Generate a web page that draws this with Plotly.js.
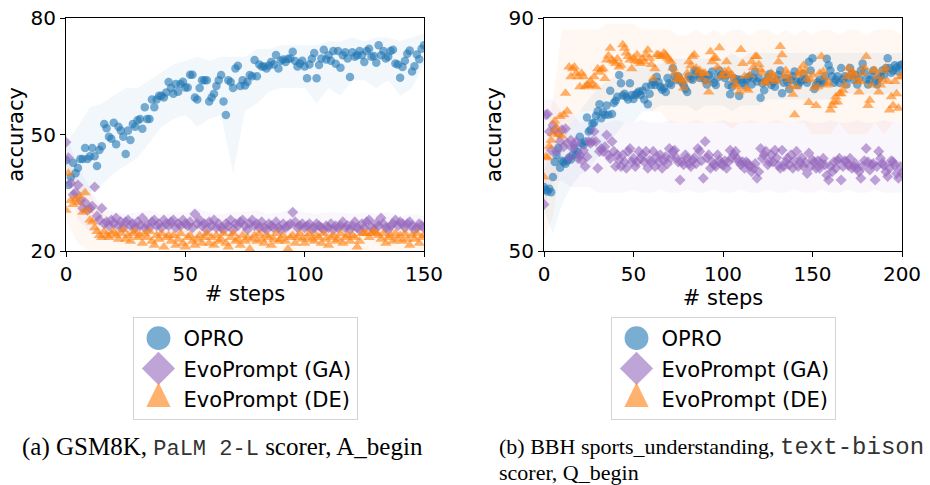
<!DOCTYPE html>
<html>
<head>
<meta charset="utf-8">
<script src="https://cdn.plot.ly/plotly-3.0.1.min.js"></script>
<style>html,body{margin:0;padding:0;background:#fff;}#chart{width:930px;height:485px;}</style>
</head>
<body>
<div id="chart"></div>
<script>
// ---------- data ----------
const seriesNames = ['OPRO', 'EvoPrompt (GA)', 'EvoPrompt (DE)'];

// (a) GSM8K, steps 0..150
const leftOPRO = [
 43.4, 37, 39, 42.7, 40, 41.4, 43.7, 43.7, 46.5, 43.7,
 44.4, 46.5, 44.4, 41.9, 46, 47, 52.7, 51.6, 49.4, 48.9,
 53, 47.5, 52, 51, 49.4, 45, 51, 48.6, 52.7, 52,
 53.7, 54, 51.5, 57, 54, 54, 59, 57, 59, 60,
 60, 59.5, 60.8, 63.5, 62, 60.5, 63, 61, 63, 63.6,
 62.1, 62.1, 65.4, 65.4, 59.5, 59, 62, 64, 64, 64,
 58.5, 59.5, 60.5, 62.5, 64, 65.3, 58.5, 55, 64, 63.5,
 62, 67, 67.7, 62.5, 64, 62.6, 63.5, 65.3, 65, 69.2,
 65, 68, 67.5, 67.5, 67, 67.8, 68.7, 68, 70.5, 67,
 69, 69.3, 68.7, 69.5, 69.6, 71.3, 68.9, 67.5, 68.3, 69,
 67.5, 64.5, 68, 69.5, 71, 64.5, 67.9, 69.6, 71.8, 69.3,
 70.4, 69, 71.5, 68.2, 71.5, 67.2, 70.4, 71.2, 69.6, 64.8,
 71.2, 70, 70.4, 71.5, 70.4, 68.7, 71.5, 72.1, 70, 70.2,
 68.5, 73, 70.4, 71.5, 69.6, 70, 71.5, 71.8, 68.3, 68,
 64.6, 67.4, 69, 70.8, 71.6, 66.2, 67.6, 70.6, 69.4, 72.1,
 73
];
const leftGA = [
 48, 44, 37.5, 34.5, 35, 37, 33, 31, 32.5, 30.5, 31, 31.5, 36.5, 29, 28, 31, 27, 27.5, 26.5, 28,
 27, 28.5, 26.5, 27.5, 26, 27.5, 28, 26.5, 27, 26, 27.5, 26.5, 28.5, 26, 27, 26, 27.5, 28, 26.5, 27,
 26, 28, 27, 26.5, 27.5, 28, 26, 27, 26.5, 28, 27, 26.5, 27.5, 26, 29.5, 27, 28, 26.5, 27, 25.5,
 27.5, 26.5, 28, 26, 27, 26, 25.5, 27, 26.5, 28, 25.5, 27, 26.5, 27.5, 28, 26.5, 25.5, 27, 28, 26.5,
 27, 26, 27.5, 26, 25.5, 27, 26.5, 26, 27.5, 26, 25.5, 27, 26, 26.5, 27, 30, 27.5, 26, 26.5, 27,
 26, 26.5, 27, 25.5, 26, 27, 26.5, 26, 25.5, 26.5, 26, 27, 25.5, 26.5, 26, 26.5, 27.5, 26, 26.5, 25.5,
 26.5, 27.5, 26, 25.5, 27, 26, 27.5, 28, 26, 25.5, 27, 26.5, 28.5, 27, 26, 25.5, 26.5, 27, 28, 26.5,
 27.5, 27, 26, 27, 27.5, 26.5, 25.5, 26, 27, 26.5, 26
];
const leftDE = [
 30.5, 40, 33, 32, 33.5, 32.5, 34, 30, 35, 30.5, 28, 27.5, 26, 25, 24, 23.5, 25, 24, 23.5, 24.5,
 25, 24, 23, 24.5, 25.5, 23, 24, 22.5, 24.5, 25, 23.5, 24, 22, 24.5, 23.5, 25, 22.5, 21.5, 24, 23,
 24.5, 21, 23.5, 24, 22.5, 24, 21.5, 23, 24.5, 22, 21, 23.5, 24, 22.5, 21.5, 23, 24, 22, 23.5, 24.5,
 22, 23.5, 21.5, 24, 22.5, 23, 24.5, 22, 21, 23.5, 24.5, 22.5, 23, 21.5, 24, 22.5, 23.5, 20.5, 23, 24,
 22.5, 24.5, 23, 22, 24, 23.5, 21.5, 23, 24.5, 22.5, 23, 24, 22.5, 20.5, 23.5, 24, 22, 23.5, 24.5, 23,
 22, 23.5, 24.5, 23, 22.5, 24, 23.5, 22, 24.5, 23, 21.5, 23.5, 24, 22.5, 23, 24.5, 22, 23.5, 24, 22.5,
 24, 23.5, 21, 22.5, 24.5, 24.5, 24.5, 23.5, 24.5, 25, 24.5, 24, 23, 24.5, 22, 23.5, 24, 22.5, 24.5, 23,
 24, 22.5, 24.5, 23, 21.5, 24, 23, 24.5, 22, 23.5, 24
];
const leftBandSteps = [0,5,10,15,20,25,30,35,40,45,50,55,60,65,70,75,80,85,90,95,100,105,110,115,120,125,130,135,140,145,150];
const leftOPROLow  = [40,33,35,37,40,42,44,48,52,54,55,52,54,55,40,56,58,61,62,62,62,58,62,60,64,64,62,64,60,62,68];
const leftOPROHigh = [48,52,57,58,60,62,62,64,66,68,69,70,69,70,70,70,72,72,73,73,73,73,74,74,75,74,75,75,74,75,76];
const leftGALow    = [44,28,25,24,24.5,23.5,24,24.5,23.5,24,24,23.5,24,24.5,23.5,24,24,23.5,24,24.5,23.5,24,24,23.5,24,24.5,24,23.5,24,24,23.5];
const leftGAHigh   = [50,42,36,31.5,30,29.5,30,30.5,29.5,30,30,31,30,29.5,30,30,30.5,29.5,30,31,30,29.5,30,30,29.5,30,29.5,30,29,29.5,29];
const leftDELow    = [28,22,20,20,20,20,20,20,20,20,20,20,20,20,20,20,20,20,20,20,20,20,20,20,20,20,20,20,20,20,20];
const leftDEHigh   = [46,38,35,30,28,27,27.5,27,26.5,27,27,27.5,27,26.5,27,27,27.5,27,26.5,27,27,27.5,27,26.5,27,27.5,27.5,27,26.5,27,27];

// (b) BBH sports_understanding, steps 0..200
const rightOPRO = [
 61, 60.5, 60.2, 60.7, 60.1, 62.7, 65.3, 66.5, 67.7, 64.3, 65.5, 65.3, 65, 65.5, 66, 65.7, 66.5, 67.7, 66.5, 67,
 69.6, 68.5, 68.2, 68.8, 72.9, 70.5, 70.8, 71.9, 72, 73.2, 74, 75.2, 72.8, 73.8, 73.4, 75, 73.4, 77.5, 73.5, 75.4,
 75.8, 76.5, 80.2, 78.8, 76.7, 77, 76.5, 76, 78.8, 76.8, 76.1, 76.8, 77.1, 77.4, 76.8, 77.5, 76, 78.2, 75.2, 77,
 78.5, 79, 78.5, 79.9, 79, 78.2, 77.7, 78, 77.3, 79.7, 78.8, 78.5, 81.4, 80, 79.4, 80, 79.4, 79, 78.5, 77.8,
 77.3, 80, 79.6, 79.4, 81, 80.8, 80.2, 79.7, 80.4, 79.8, 79.4, 78.6, 80.2, 79.5, 80.8, 78.9, 78.5, 79.8, 81, 80.2,
 80.2, 79.7, 80.2, 78.5, 76.9, 78.2, 79.7, 78.9, 79.5, 76.6, 79.4, 78.9, 78.5, 79.4, 79.8, 80, 78.6, 79.7, 80.8, 79.1,
 79.7, 76.3, 78.8, 77.6, 79.1, 79.8, 80.4, 78.5, 79, 78.2, 79.4, 80.2, 81, 77.1, 78.9, 79.7, 79, 77.8, 79.4, 80,
 80.8, 79.1, 78.5, 79, 79.4, 80.4, 79.5, 78.9, 82.5, 81, 83.1, 77.8, 78.5, 79, 79.4, 78.8, 79.1, 80, 83, 81.9,
 81, 80, 78.9, 79.4, 80, 78.9, 81.4, 79.5, 80, 78.6, 79.8, 81.4, 80.4, 79.4, 80.2, 78.6, 79.6, 81, 82.2, 80.8,
 79.5, 78.6, 79.4, 80.2, 81, 79.1, 78.6, 79.6, 80, 81, 80.2, 81.4, 83.1, 81.4, 80.6, 81, 81.9, 81.5, 80.8, 81.9,
 82
];
const rightGA = [
 58, 73.4, 73.5, 70.5, 67.3, 71.6, 70.8, 67.1, 70.2, 68.8, 70.8, 67.9, 71, 68.5, 66, 69, 67.6, 68.2, 68.8, 65.9,
 66.5, 65.6, 67.3, 64.5, 66.2, 68.8, 68.5, 68.8, 70.5, 68.8, 64.2, 67.1, 67.6, 67.1, 67.9, 69.9, 66.5, 65.9, 68.8, 67.1,
 64.5, 66.5, 65.6, 64.5, 66.5, 65.3, 64.2, 67.1, 67.6, 65.3, 65.9, 64.5, 65.3, 67.1, 65.9, 66.5, 65.3, 67.1, 64.2, 65.6,
 65.3, 67.1, 64.5, 66.2, 65.3, 66.5, 64.2, 65.5, 66.2, 65, 67.6, 66, 67.1, 67.3, 66, 65.3, 62.2, 65.3, 64.8, 66.5,
 65.9, 65, 64.5, 65.6, 66, 65, 67.6, 67.1, 65.5, 62.5, 68.8, 66, 66.5, 64.2, 65.3, 64.8, 64.5, 66.5, 65.6, 65,
 64.7, 65.5, 64.2, 65.3, 67.3, 66, 66.5, 67.1, 65.9, 65.3, 64.8, 65.3, 64.2, 65.3, 65, 64.5, 63.6, 64.2, 65, 62.5,
 63.6, 67.6, 65.9, 66.5, 67.1, 64.8, 65.3, 66.5, 65.3, 67.3, 66, 64.7, 64.2, 67.3, 64.5, 65.3, 65.9, 64.8, 66.5, 64.2,
 65.5, 67.1, 64.5, 65.3, 66, 64.5, 65.2, 63.3, 66.8, 64.5, 65.6, 65.3, 64.2, 65.5, 64.2, 65, 65.9, 64.8, 63, 62.2,
 64.5, 63.6, 65.3, 64.2, 65.5, 65.9, 62.2, 64.5, 65.5, 65.3, 64.7, 65.9, 64.2, 64.5, 65, 64.2, 63.6, 62.5, 64.5, 65.5,
 67.6, 65.3, 63.9, 64.8, 65, 62.2, 64.5, 67.1, 65.9, 65, 64.7, 63.6, 62.8, 64.2, 65.5, 65.3, 64.7, 63.3, 62.5, 64.5,
 63.4
];
const rightDE = [
 62.7, 66.2, 66, 68, 69, 70.2, 72.3, 71.2, 70, 73.1, 69.7, 73.4, 77.1, 74, 81.6, 79.9, 81.3, 81.6, 80.5, 79.9,
 78.2, 80.5, 79.9, 78.2, 78.5, 78.4, 79.2, 78.5, 79.9, 78.2, 81.3, 80.7, 81.1, 81.3, 79.6, 82.8, 83.5, 84.8, 82.8, 82.5,
 82.2, 83, 81.6, 81.9, 85.4, 84.8, 84, 83.4, 82.8, 81.3, 83.1, 82.6, 83.7, 82.5, 82.2, 83, 82.5, 83.7, 84.5, 83.1,
 82, 79.6, 81.3, 83.7, 83.7, 83.4, 83.4, 84, 83.7, 83.1, 82.8, 82.5, 81.4, 80.5, 79.4, 80, 79.6, 79, 78, 79.4,
 80.5, 82.5, 81.8, 83.4, 83.7, 81.4, 80.5, 81, 79.6, 80.5, 80.5, 79, 77.3, 84.2, 82.5, 83.1, 83.1, 81.5, 84.9, 80,
 80, 80.8, 82.5, 81, 80.2, 80.2, 79.4, 78.5, 78.2, 77.3, 84.6, 82.2, 80, 77.9, 77.6, 80.2, 82.5, 81.5, 83.4, 83.4,
 82, 81.1, 80.5, 79.1, 78.8, 79.4, 79.6, 80.5, 80.2, 79.5, 79.1, 82.5, 85.1, 83.7, 79.9, 81, 80.3, 79.4, 78.2, 76.9,
 73.4, 78.2, 80.2, 81, 80.5, 81.9, 81, 79.5, 75.5, 79.4, 80.2, 78, 75, 78.2, 80.5, 83.4, 80.8, 79.7, 78.5, 78.8,
 74.2, 75, 75.6, 76.5, 75.6, 77, 77, 77.6, 78.5, 79.9, 81.4, 80.1, 80.8, 80.5, 79.8, 79.1, 77.3, 79.1, 80.5, 81.5,
 83.4, 75, 75.9, 78.5, 81, 81, 79.9, 77.3, 78.5, 79.4, 81, 81.4, 79.1, 74.2, 76.5, 75, 79.1, 77, 74.5, 79.9,
 79.9
];
const rightBandSteps = [0,5,10,15,20,25,30,35,40,45,50,55,60,65,70,75,80,85,90,95,100,105,110,115,120,125,130,135,140,145,150,155,160,165,170,175,180,185,190,195,200];
const rightOPROLow  = [57,53,58,61,63,64,66,68,70,72,72,74,74,75,75,75,75,74,75,75,75,74,75,75,75,76,76,76,76,76,76,76,76,77,77,77,77,77,77,77,78];
const rightOPROHigh = [64,68,70,72,74,76,78,79,80,81,82,82,82,82,83,83,83,83,83,83,83,84,83,84,84,84,84,84,84,84,84,84,84,84,84,84,84,84,84,84,84];
const rightGALow    = [57,62,62,61,61,61,60,60,60,60,60.5,60,60,60.5,60,60,60.5,60,60,60.5,60,60,60.5,60,60,60.5,60,60,60.5,60,60,60.5,60,60,60.5,60,60,60.5,60,60,60];
const rightGAHigh   = [76,76,74,74,72,72.5,72,72,72.5,72,72,72.5,72,72,72.5,72,72,72.5,72,72,72.5,72,72,72.5,72,72,72.5,72,72,72.5,72,72,72.5,72,72,72.5,72,72,72.5,72,72];
const rightDELow    = [52,56,66,72,74,74,74,76,76,76,76,76,74,74,72,72,72,72,72,72,72,71,72,72,72,72,72,72,72,72,70,70,70,72,70,70,70,72,70,72,72];
const rightDEHigh   = [68,76,88,88,88,88,88,89,89,89,89,88,88,88,88,87,87,88,87,88,87,88,88,87,88,88,87,88,87,88,87,88,88,87,88,88,87,88,88,88,87];

const leftXTicks = [0, 50, 100, 150];
const leftYTicks = [20, 50, 80];
const rightXTicks = [0, 50, 100, 150, 200];
const rightYTicks = [50, 90];

// ---------- style ----------
const rgb = ['31,119,180', '148,103,189', '255,127,14'];
const symbols = ['circle', 'diamond', 'triangle-up'];
const msize = [8.5, 8.5, 10];
const bandAlpha = [0.06, 0.05, 0.06];
const FONT = 'DejaVu Sans, Arial, sans-serif';
const SERIF = 'Liberation Serif, Times New Roman, serif';

function steps(n) { return Array.from({length: n}, (_, i) => i); }

const traces = [];
function addPanel(xa, ya, legendId, bandSteps, bands, series) {
  bands.forEach((b, k) => {
    traces.push({x: bandSteps, y: b[0], xaxis: xa, yaxis: ya, mode: 'lines',
      line: {width: 0, color: 'rgba(0,0,0,0)'}, showlegend: false, hoverinfo: 'skip'});
    traces.push({x: bandSteps, y: b[1], xaxis: xa, yaxis: ya, mode: 'lines', fill: 'tonexty',
      fillcolor: 'rgba(' + rgb[k] + ',' + bandAlpha[k] + ')', line: {width: 0, color: 'rgba(0,0,0,0)'},
      showlegend: false, hoverinfo: 'skip'});
  });
  series.forEach((s, k) => {
    traces.push({x: steps(s.length), y: s, xaxis: xa, yaxis: ya, mode: 'markers', type: 'scatter',
      name: seriesNames[k], legend: legendId, legendgroup: legendId + k,
      marker: {symbol: symbols[k], size: msize[k], color: 'rgb(' + rgb[k] + ')', opacity: 0.6,
        line: {width: 0}}});
  });
}
addPanel('x', 'y', 'legend', leftBandSteps,
  [[leftOPROLow, leftOPROHigh], [leftGALow, leftGAHigh], [leftDELow, leftDEHigh]],
  [leftOPRO, leftGA, leftDE]);
addPanel('x2', 'y2', 'legend2', rightBandSteps,
  [[rightOPROLow, rightOPROHigh], [rightGALow, rightGAHigh], [rightDELow, rightDEHigh]],
  [rightOPRO, rightGA, rightDE]);

function axis(domain, range, ticks, title, anchor, standoff) {
  return {domain: domain, range: range, tickvals: ticks, ticktext: ticks.map(String),
    anchor: anchor, showgrid: false, zeroline: false, showline: true, mirror: true,
    linecolor: '#000', linewidth: 1, ticks: 'outside', ticklen: 5, tickwidth: 1, tickcolor: '#000',
    tickfont: {family: FONT, size: 20, color: '#000'},
    title: {text: title, font: {family: FONT, size: 21, color: '#000'}, standoff: standoff},
    automargin: false, fixedrange: true};
}
const yDom = [234 / 485, 467 / 485];
const legendCommon = {yanchor: 'top', xanchor: 'center', bgcolor: '#fff', bordercolor: '#d4d4d4',
  borderwidth: 1, font: {family: FONT, size: 21, color: '#000'}, tracegroupgap: 6, itemwidth: 40,
  traceorder: 'normal'};
const mono = function (s, px) { return "<span style=\"font-family:'Liberation Mono',monospace;font-size:" + px + "px;fill:#333\">" + s + '</span>'; };

const layout = {
  width: 930, height: 485, margin: {l: 0, r: 0, t: 0, b: 0},
  paper_bgcolor: '#fff', plot_bgcolor: '#fff', showlegend: true,
  xaxis: axis([66 / 930, 424 / 930], [0, 150], leftXTicks, '# steps', 'y', 1),
  yaxis: axis(yDom, [20, 80], leftYTicks, 'accuracy', 'x', 1),
  xaxis2: axis([544 / 930, 902 / 930], [0, 200], rightXTicks, '# steps', 'y2', 1),
  yaxis2: axis(yDom, [50, 90], rightYTicks, 'accuracy', 'x2', 1),
  legend: Object.assign({x: 245 / 930, y: 168 / 485}, legendCommon),
  legend2: Object.assign({x: 723 / 930, y: 168 / 485}, legendCommon),
  annotations: [
    {xref: 'paper', yref: 'paper', x: 20 / 930, y: 38 / 485, xanchor: 'left', yanchor: 'middle',
     showarrow: false, align: 'left',
     text: '(a) GSM8K, ' + mono('PaLM 2-L', 22) + ' scorer, A_begin',
     font: {family: SERIF, size: 25, color: '#000'}},
    {xref: 'paper', yref: 'paper', x: 497 / 930, y: 38 / 485, xanchor: 'left', yanchor: 'middle',
     showarrow: false, align: 'left',
     text: '(b) BBH sports_understanding, ' + mono('text-bison', 24),
     font: {family: SERIF, size: 22, color: '#000'}},
    {xref: 'paper', yref: 'paper', x: 497 / 930, y: 13 / 485, xanchor: 'left', yanchor: 'middle',
     showarrow: false, align: 'left',
     text: 'scorer, Q_begin',
     font: {family: SERIF, size: 22, color: '#000'}}
  ]
};

// legend glyph enlargement (sx, sy) per series
const legendScale = {'OPRO': [2.8, 2.8], 'EvoPrompt (GA)': [3.0, 3.0], 'EvoPrompt (DE)': [2.1, 3.3]};
function enlargeLegend(root) {
  root.querySelectorAll('.legendpoints').forEach(function (lp) {
    let g = lp.parentNode;
    while (g && g.querySelector && !g.querySelector('text')) g = g.parentNode;
    if (!g || !g.querySelector) return;
    const k = legendScale[(g.querySelector('text').textContent || '').trim()];
    if (!k) return;
    lp.querySelectorAll('path').forEach(function (p) {
      const want = 'scale(' + k[0] + ',' + k[1] + ')';
      const cur = p.getAttribute('transform') || '';
      if (cur.indexOf(want) === -1) p.setAttribute('transform', cur.replace(/\s*scale\([^)]*\)/g, '') + ' ' + want);
    });
  });
}

const chartDiv = document.getElementById('chart');
const observer = new MutationObserver(function () { enlargeLegend(chartDiv); });
observer.observe(chartDiv, {childList: true, subtree: true, attributes: true, attributeFilter: ['transform']});

Plotly.newPlot(chartDiv, traces, layout, {displayModeBar: false, staticPlot: true}).then(function (gd) {
  enlargeLegend(gd);
  [0, 50, 200, 500].forEach(function (ms) { setTimeout(function () { enlargeLegend(gd); }, ms); });
  const checks = [[leftOPRO,151],[leftGA,151],[leftDE,151],[rightOPRO,201],[rightGA,201],[rightDE,201],
    [leftOPROLow,31],[leftOPROHigh,31],[leftGALow,31],[leftGAHigh,31],[leftDELow,31],[leftDEHigh,31],
    [rightOPROLow,41],[rightOPROHigh,41],[rightGALow,41],[rightGAHigh,41],[rightDELow,41],[rightDEHigh,41]];
  const bad = checks.map((c, i) => c[0].length !== c[1] ? i + ':' + c[0].length : null).filter(Boolean);
  if (bad.length) throw new Error('length mismatch ' + bad.join(','));
});
</script>
</body>
</html>
